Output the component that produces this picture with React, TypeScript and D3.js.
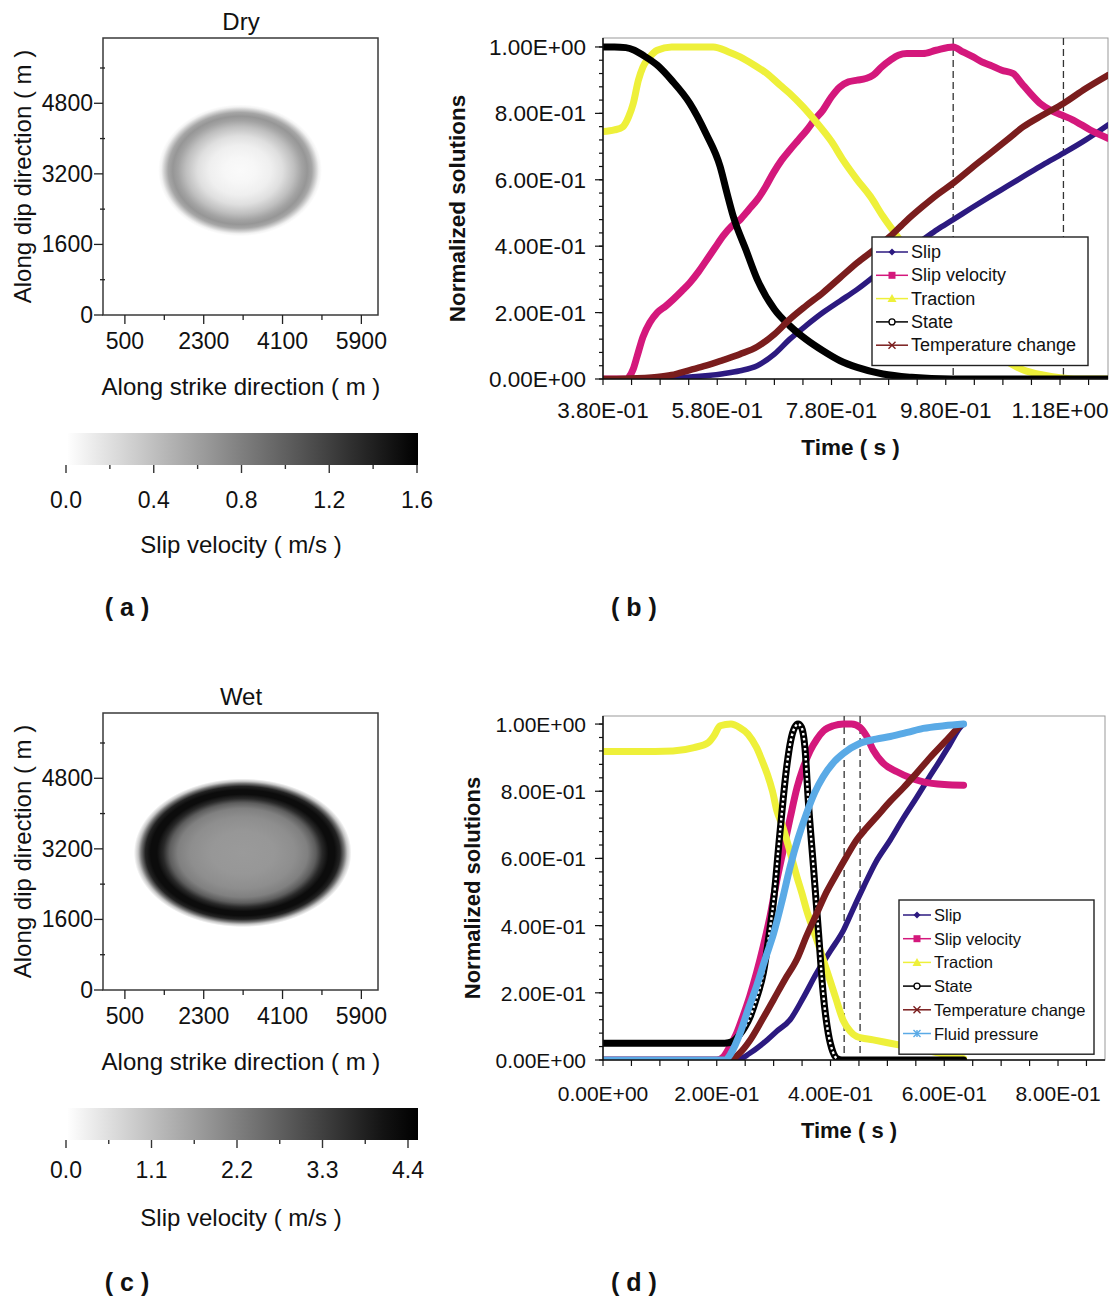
import React from 'react';
import * as d3 from 'd3';

type Pt = [number, number];

const W = 1113;
const H = 1301;
const FONT = "'Liberation Sans', Arial, Helvetica, sans-serif";

// ---- slip velocity maps (a, c) ----
const MAP_EXTENT = 6280; // m, both directions
const dipTicks = [0, 1600, 3200, 4800];
const dipMinor = [800, 2400, 4000, 5600];
const strikeTicks = [500, 2300, 4100, 5900];
const strikeMinor = [1400, 3200, 5000];

// rupture patch: centre strike, centre dip, semi-axis strike, semi-axis dip (m)
const dryPatch = [3130, 3280, 1765, 1410];
const wetPatch = [3190, 3110, 2390, 1620];

// slip velocity along normalised elliptic radius (m/s)
const dryRadius = [0, 0.2, 0.4, 0.55, 0.7, 0.8, 0.87, 0.93, 0.98, 1.02, 1.06];
const dryVel = [0.03, 0.05, 0.1, 0.2, 0.4, 0.58, 0.66, 0.56, 0.3, 0.08, 0];
const wetRadius = [0, 0.3, 0.5, 0.62, 0.7, 0.76, 0.82, 0.88, 0.93, 0.97, 1.0, 1.04];
const wetVel = [1.75, 1.8, 1.95, 2.2, 2.8, 3.7, 4.2, 4.2, 3.8, 2.4, 1.0, 0];

const dryBarTicks = [0, 0.4, 0.8, 1.2, 1.6];
const wetBarTicks = [0, 1.1, 2.2, 3.3, 4.4];

// ---- normalised solutions, dry (b) ----
const bTimeTicks = [0.38, 0.58, 0.78, 0.98, 1.18];
const bDashed = [0.993, 1.186];

const bSlip: Pt[] = [
  [0.38, 0], [0.45, 0.001], [0.532, 0.006], [0.59, 0.016], [0.62, 0.025], [0.65, 0.04],
  [0.68, 0.075], [0.707, 0.12], [0.735, 0.16], [0.765, 0.2], [0.795, 0.235], [0.825, 0.27],
  [0.855, 0.31], [0.883, 0.35], [0.91, 0.385], [0.94, 0.42], [0.965, 0.45], [0.993, 0.48],
  [1.025, 0.515], [1.058, 0.55], [1.087, 0.58], [1.116, 0.61], [1.15, 0.645], [1.186, 0.68],
  [1.225, 0.72], [1.264, 0.765],
];
const bSlipVel: Pt[] = [
  [0.38, 0], [0.42, 0], [0.425, 0.005], [0.433, 0.03], [0.44, 0.07], [0.45, 0.127], [0.462, 0.17],
  [0.475, 0.2], [0.49, 0.22], [0.503, 0.24], [0.518, 0.265], [0.532, 0.29], [0.548, 0.325],
  [0.562, 0.36], [0.576, 0.395], [0.59, 0.43], [0.605, 0.46], [0.62, 0.48], [0.635, 0.51],
  [0.65, 0.54], [0.665, 0.58], [0.678, 0.62], [0.693, 0.66], [0.707, 0.69], [0.722, 0.72],
  [0.737, 0.75], [0.75, 0.78], [0.765, 0.81], [0.78, 0.85], [0.795, 0.88], [0.81, 0.895],
  [0.825, 0.9], [0.84, 0.905], [0.853, 0.915], [0.868, 0.94], [0.883, 0.96], [0.897, 0.975],
  [0.912, 0.98], [0.94, 0.98], [0.963, 0.99], [0.993, 1.0], [1.01, 0.985], [1.028, 0.97],
  [1.043, 0.955], [1.058, 0.945], [1.078, 0.93], [1.098, 0.92], [1.113, 0.89], [1.128, 0.86],
  [1.145, 0.83], [1.163, 0.81], [1.183, 0.795], [1.203, 0.78], [1.233, 0.75], [1.264, 0.725],
];
const bTraction: Pt[] = [
  [0.38, 0.745], [0.4, 0.75], [0.415, 0.76], [0.425, 0.79], [0.433, 0.83], [0.442, 0.9],
  [0.45, 0.94], [0.462, 0.97], [0.475, 0.99], [0.5, 1.0], [0.54, 1.0], [0.573, 1.0],
  [0.6, 0.985], [0.62, 0.97], [0.645, 0.945], [0.667, 0.92], [0.69, 0.885], [0.707, 0.86],
  [0.73, 0.82], [0.755, 0.77], [0.78, 0.715], [0.8, 0.66], [0.825, 0.6], [0.848, 0.55],
  [0.87, 0.49], [0.895, 0.43], [0.92, 0.37], [0.95, 0.3], [0.98, 0.23], [1.01, 0.17],
  [1.04, 0.12], [1.075, 0.066], [1.1, 0.04], [1.116, 0.027], [1.15, 0.012], [1.18, 0.004],
  [1.21, 0], [1.264, 0],
];
const bState: Pt[] = [
  [0.38, 1.0], [0.4, 1.0], [0.42, 0.998], [0.435, 0.99], [0.45, 0.975], [0.475, 0.945],
  [0.5, 0.9], [0.532, 0.83], [0.56, 0.74], [0.585, 0.64], [0.597, 0.56], [0.608, 0.49],
  [0.63, 0.39], [0.65, 0.3], [0.68, 0.21], [0.707, 0.16], [0.735, 0.12], [0.765, 0.085],
  [0.795, 0.055], [0.825, 0.035], [0.87, 0.015], [0.92, 0.005], [0.99, 0], [1.264, 0],
];
const bTemp: Pt[] = [
  [0.38, 0], [0.42, 0.001], [0.475, 0.006], [0.5, 0.012], [0.532, 0.027], [0.56, 0.04],
  [0.59, 0.057], [0.62, 0.075], [0.65, 0.097], [0.68, 0.135], [0.707, 0.18], [0.735, 0.22],
  [0.765, 0.26], [0.795, 0.305], [0.825, 0.35], [0.855, 0.39], [0.883, 0.43], [0.91, 0.475],
  [0.94, 0.52], [0.965, 0.555], [0.993, 0.59], [1.025, 0.635], [1.058, 0.68], [1.087, 0.72],
  [1.116, 0.76], [1.15, 0.795], [1.186, 0.83], [1.225, 0.875], [1.264, 0.915],
];

// ---- normalised solutions, wet (d) ----
const dTimeTicks = [0, 0.2, 0.4, 0.6, 0.8];
const dDashed = [0.424, 0.452];
const dStateOpenSpan = [0.235, 0.412]; // where the open-circle markers of State show up

const dSlip: Pt[] = [
  [0, 0], [0.235, 0], [0.258, 0.02], [0.282, 0.05], [0.305, 0.085], [0.329, 0.12],
  [0.352, 0.185], [0.376, 0.26], [0.4, 0.325], [0.423, 0.387], [0.44, 0.45], [0.458, 0.515],
  [0.48, 0.59], [0.505, 0.655], [0.528, 0.72], [0.552, 0.783], [0.573, 0.84], [0.593, 0.893],
  [0.61, 0.94], [0.628, 0.99], [0.634, 1.0],
];
const dSlipVel: Pt[] = [
  [0, 0], [0.2, 0], [0.212, 0.01], [0.223, 0.04], [0.235, 0.08], [0.246, 0.13], [0.258, 0.19],
  [0.27, 0.26], [0.282, 0.34], [0.294, 0.43], [0.305, 0.53], [0.317, 0.625], [0.329, 0.72],
  [0.341, 0.81], [0.352, 0.87], [0.364, 0.92], [0.376, 0.955], [0.388, 0.98], [0.405, 0.995],
  [0.423, 1.0], [0.437, 1.0], [0.452, 0.99], [0.463, 0.965], [0.475, 0.923], [0.493, 0.883],
  [0.517, 0.858], [0.54, 0.84], [0.563, 0.828], [0.6, 0.82], [0.634, 0.818],
];
const dTraction: Pt[] = [
  [0, 0.918], [0.06, 0.918], [0.123, 0.92], [0.16, 0.93], [0.185, 0.945], [0.195, 0.965],
  [0.206, 0.995], [0.225, 1.0], [0.24, 0.99], [0.255, 0.97], [0.27, 0.93], [0.28, 0.89],
  [0.289, 0.85], [0.298, 0.8], [0.306, 0.74], [0.315, 0.7], [0.323, 0.655], [0.332, 0.6],
  [0.341, 0.545], [0.35, 0.495], [0.358, 0.446], [0.367, 0.4], [0.376, 0.357], [0.387, 0.3],
  [0.399, 0.238], [0.41, 0.18], [0.422, 0.119], [0.435, 0.085], [0.446, 0.07], [0.475, 0.06],
  [0.505, 0.05], [0.535, 0.04], [0.565, 0.03], [0.593, 0.02], [0.615, 0.01], [0.634, 0.004],
];
const dState: Pt[] = [
  [0, 0.05], [0.1, 0.05], [0.214, 0.05], [0.228, 0.055], [0.24, 0.075], [0.25, 0.1],
  [0.259, 0.13], [0.27, 0.185], [0.282, 0.26], [0.291, 0.36], [0.3, 0.476], [0.311, 0.675],
  [0.323, 0.873], [0.33, 0.95], [0.337, 0.99], [0.343, 1.0], [0.349, 0.99], [0.355, 0.93],
  [0.361, 0.77], [0.37, 0.575], [0.379, 0.377], [0.387, 0.2], [0.396, 0.08], [0.404, 0.025],
  [0.411, 0.005], [0.42, 0], [0.634, 0],
];
const dTemp: Pt[] = [
  [0, 0], [0.223, 0], [0.24, 0.02], [0.259, 0.06], [0.28, 0.12], [0.3, 0.18], [0.32, 0.24],
  [0.341, 0.3], [0.358, 0.37], [0.376, 0.437], [0.393, 0.5], [0.411, 0.555], [0.428, 0.605],
  [0.446, 0.655], [0.463, 0.69], [0.481, 0.724], [0.505, 0.77], [0.528, 0.81], [0.552, 0.855],
  [0.575, 0.9], [0.6, 0.945], [0.628, 0.997],
];
const dFluid: Pt[] = [
  [0, 0], [0.214, 0], [0.225, 0.02], [0.241, 0.08], [0.255, 0.15], [0.27, 0.22], [0.285, 0.3],
  [0.3, 0.377], [0.315, 0.475], [0.329, 0.575], [0.343, 0.66], [0.358, 0.735], [0.372, 0.795],
  [0.387, 0.843], [0.405, 0.885], [0.423, 0.913], [0.452, 0.943], [0.48, 0.955], [0.505, 0.963],
  [0.535, 0.975], [0.563, 0.987], [0.6, 0.995], [0.634, 1.0],
];

type MarkerKind = 'diamond' | 'square' | 'triangle' | 'circle' | 'cross' | 'star';
interface SeriesStyle { name: string; color: string; marker: MarkerKind; width: number }

const STYLE: Record<string, SeriesStyle> = {
  slip: { name: 'Slip', color: '#2c1a80', marker: 'diamond', width: 5.5 },
  vel: { name: 'Slip velocity', color: '#d4187c', marker: 'square', width: 7 },
  traction: { name: 'Traction', color: '#eef03a', marker: 'triangle', width: 7 },
  state: { name: 'State', color: '#000000', marker: 'circle', width: 7 },
  temp: { name: 'Temperature change', color: '#7a1d1d', marker: 'cross', width: 6.5 },
  fluid: { name: 'Fluid pressure', color: '#5aaae6', marker: 'star', width: 7 },
};

const greyScale = (vMax: number) =>
  d3.scaleLinear<string>().domain([0, vMax]).range(['#ffffff', '#000000']).clamp(true);

function sciLabel(v: number) {
  const [m, e] = v.toExponential(2).split('e');
  const n = parseInt(e, 10);
  return `${m}E${n < 0 ? '-' : '+'}${String(Math.abs(n)).padStart(2, '0')}`;
}

function Marker({ kind, x, y, color }: { kind: MarkerKind; x: number; y: number; color: string }) {
  const s = 3.5;
  switch (kind) {
    case 'diamond':
      return <path d={`M${x},${y - s}L${x + s},${y}L${x},${y + s}L${x - s},${y}Z`} fill={color} />;
    case 'square':
      return <rect x={x - s} y={y - s} width={2 * s} height={2 * s} fill={color} />;
    case 'triangle':
      return <path d={`M${x},${y - s - 1}L${x + s + 1},${y + s}L${x - s - 1},${y + s}Z`} fill={color} />;
    case 'circle':
      return <circle cx={x} cy={y} r={3} fill="#fff" stroke={color} strokeWidth={1.3} />;
    case 'cross':
      return (
        <path d={`M${x - s},${y - s}L${x + s},${y + s}M${x - s},${y + s}L${x + s},${y - s}`}
          stroke={color} strokeWidth={1.4} />
      );
    default:
      return (
        <path d={`M${x - s},${y - s}L${x + s},${y + s}M${x - s},${y + s}L${x + s},${y - s}M${x},${y - s}L${x},${y + s}`}
          stroke={color} strokeWidth={1.4} />
      );
  }
}

function SlipMap(props: {
  id: string; top: number; title: string; patch: number[];
  radius: number[]; vel: number[]; vMax: number;
}) {
  const { id, top, title, patch, radius, vel, vMax } = props;
  const left = 103, right = 378, bottom = top + 277;
  const x = d3.scaleLinear().domain([0, MAP_EXTENT]).range([left, right]);
  const y = d3.scaleLinear().domain([0, MAP_EXTENT]).range([bottom, top]);
  const shade = greyScale(vMax);
  const rMax = d3.max(radius) as number;
  const [cs, cd, as, ad] = patch;

  return (
    <g>
      <defs>
        <radialGradient id={id}>
          {radius.map((r, i) => (
            <stop key={i} offset={r / rMax} stopColor={shade(vel[i])} />
          ))}
        </radialGradient>
        <clipPath id={`${id}-clip`}>
          <rect x={left} y={top} width={right - left} height={bottom - top} />
        </clipPath>
      </defs>
      <text x={241} y={top - 8} fontSize={24} textAnchor="middle">{title}</text>
      <rect x={left} y={top} width={right - left} height={bottom - top} fill="#fff" />
      <ellipse
        clipPath={`url(#${id}-clip)`}
        cx={x(cs)} cy={y(cd)}
        rx={x(as * rMax) - x(0)} ry={y(0) - y(ad * rMax)}
        fill={`url(#${id})`}
      />
      <rect x={left} y={top} width={right - left} height={bottom - top}
        fill="none" stroke="#3a3a3a" strokeWidth={1.5} />
      {dipTicks.map((v) => (
        <g key={`dy${v}`}>
          <line x1={left - 9} x2={left} y1={y(v)} y2={y(v)} stroke="#222" strokeWidth={1.3} />
          <text x={left - 10} y={y(v) + 8} fontSize={23} textAnchor="end">{v}</text>
        </g>
      ))}
      {dipMinor.map((v) => (
        <line key={`dm${v}`} x1={left - 3} x2={left + 2} y1={y(v)} y2={y(v)} stroke="#222" strokeWidth={1.3} />
      ))}
      {strikeTicks.map((v) => (
        <g key={`sx${v}`}>
          <line x1={x(v)} x2={x(v)} y1={bottom} y2={bottom + 9} stroke="#222" strokeWidth={1.3} />
          <text x={x(v)} y={bottom + 34} fontSize={23} textAnchor="middle">{v}</text>
        </g>
      ))}
      {strikeMinor.map((v) => (
        <line key={`sm${v}`} x1={x(v)} x2={x(v)} y1={bottom} y2={bottom + 5} stroke="#222" strokeWidth={1.3} />
      ))}
      <text x={241} y={bottom + 80} fontSize={24} textAnchor="middle">Along strike direction ( m )</text>
      <text transform={`translate(31,${(top + bottom) / 2}) rotate(-90)`} fontSize={24} textAnchor="middle">
        Along dip direction ( m )
      </text>
    </g>
  );
}

function ColorBar(props: {
  id: string; top: number; ticks: number[]; tickEnd: number;
  labelY: number; titleY: number;
}) {
  const { id, top, ticks, tickEnd, labelY, titleY } = props;
  const vMax = ticks[ticks.length - 1];
  const x = d3.scaleLinear().domain([0, vMax]).range([66, tickEnd]);
  const shade = greyScale(vMax);
  const barL = 68, barR = 418, h = 32;
  const stops = d3.range(0, 11).map((i) => ({
    offset: i / 10,
    color: shade(x.invert(barL + (i * (barR - barL)) / 10)),
  }));
  const minor = ticks.slice(1).map((v, i) => (v + ticks[i]) / 2);
  return (
    <g>
      <defs>
        <linearGradient id={id} x1="0" x2="1" y1="0" y2="0">
          {stops.map((s, i) => <stop key={i} offset={s.offset} stopColor={s.color} />)}
        </linearGradient>
      </defs>
      <rect x={barL} y={top} width={barR - barL} height={h} fill={`url(#${id})`} />
      {ticks.map((v) => (
        <g key={v}>
          <line x1={x(v)} x2={x(v)} y1={top + h} y2={top + h + 8} stroke="#333" strokeWidth={1.4} />
          <text x={x(v)} y={labelY} fontSize={23} textAnchor="middle">{v.toFixed(1)}</text>
        </g>
      ))}
      {minor.map((v) => (
        <line key={v} x1={x(v)} x2={x(v)} y1={top + h} y2={top + h + 4} stroke="#333" strokeWidth={1.4} />
      ))}
      <text x={241} y={titleY} fontSize={24} textAnchor="middle">Slip velocity ( m/s )</text>
    </g>
  );
}

interface PlotSeries { key: string; data: Pt[]; openSpan?: number[] }

function SolutionPlot(props: {
  id: string; left: number; right: number; top: number; bottom: number;
  tDomain: [number, number]; yMax: number; timeTicks: number[]; dashed: number[];
  series: PlotSeries[]; tickFont: number; tickLabelY: number; yTitleX: number; titleSize: number;
  legend: { x: number; y: number; w: number; row: number; font: number; sampleW: number };
}) {
  const { id, left, right, top, bottom, tDomain, yMax, timeTicks, dashed, series, legend } = props;
  const x = d3.scaleLinear().domain(tDomain).range([left, right]);
  const y = d3.scaleLinear().domain([0, yMax]).range([bottom, top]);
  const line = d3.line<Pt>().x((d) => x(d[0])).y((d) => y(d[1])).curve(d3.curveMonotoneX);
  const yMinor = d3.range(0, yMax + 1e-9, 0.04);
  const yMajor = d3.range(0, 1.0001, 0.2);
  const tMinor = d3.range(tDomain[0], tDomain[1] + 1e-9, 0.05);
  const legendH = series.length * legend.row + 12;

  return (
    <g>
      <defs>
        <clipPath id={`${id}-clip`}>
          <rect x={left} y={top} width={right - left} height={bottom - top} />
        </clipPath>
        {series.filter((s) => s.openSpan).map((s) => (
          <clipPath key={s.key} id={`${id}-${s.key}-open`}>
            <rect x={x(s.openSpan![0])} y={top} width={x(s.openSpan![1]) - x(s.openSpan![0])} height={bottom - top} />
          </clipPath>
        ))}
      </defs>
      <rect x={left} y={top} width={right - left} height={bottom - top} fill="#fff" stroke="#999" strokeWidth={1} />
      {dashed.map((t) => (
        <line key={t} x1={x(t)} x2={x(t)} y1={top} y2={bottom} stroke="#333" strokeWidth={1.3} strokeDasharray="7,4" />
      ))}
      <g clipPath={`url(#${id}-clip)`}>
        {series.map((s) => (
          <g key={s.key}>
            <path d={line(s.data) as string} fill="none"
              stroke={STYLE[s.key].color} strokeWidth={STYLE[s.key].width}
              strokeLinejoin="round" strokeLinecap="round" />
            {s.openSpan && (
              <path d={line(s.data) as string} fill="none" stroke="#fff" strokeWidth={2.4}
                strokeDasharray="2.5,2.5" clipPath={`url(#${id}-${s.key}-open)`} />
            )}
          </g>
        ))}
      </g>
      <line x1={left} x2={left} y1={top} y2={bottom} stroke="#111" strokeWidth={1.5} />
      <line x1={left} x2={right} y1={bottom} y2={bottom} stroke="#111" strokeWidth={1.5} />
      {yMinor.map((v, i) => (
        <line key={`ym${i}`} x1={left - 4} x2={left} y1={y(v)} y2={y(v)} stroke="#111" strokeWidth={1.2} />
      ))}
      {yMajor.map((v, i) => (
        <g key={`yM${i}`}>
          <line x1={left - 8} x2={left} y1={y(v)} y2={y(v)} stroke="#111" strokeWidth={1.2} />
          <text x={left - 17} y={y(v) + 8} fontSize={props.tickFont} textAnchor="end">{sciLabel(v)}</text>
        </g>
      ))}
      {tMinor.map((v, i) => (
        <line key={`tm${i}`} x1={x(v)} x2={x(v)} y1={bottom} y2={bottom + 6} stroke="#111" strokeWidth={1.2} />
      ))}
      {timeTicks.map((v) => (
        <text key={`tl${v}`} x={x(v)} y={props.tickLabelY} fontSize={props.tickFont} textAnchor="middle">
          {sciLabel(v)}
        </text>
      ))}
      <text x={(left + right) / 2 - 5} y={props.tickLabelY + 37} fontSize={props.titleSize} fontWeight="bold" textAnchor="middle">
        Time ( s )
      </text>
      <text transform={`translate(${props.yTitleX},${(top + bottom) / 2}) rotate(-90)`}
        fontSize={props.titleSize} fontWeight="bold" textAnchor="middle">
        Normalized solutions
      </text>
      <g>
        <rect x={legend.x} y={legend.y} width={legend.w} height={legendH} fill="#fff" stroke="#222" strokeWidth={1.4} />
        {series.map((s, i) => {
          const st = STYLE[s.key];
          const ry = legend.y + 15 + i * legend.row;
          const x0 = legend.x + 4;
          const x1 = x0 + legend.sampleW;
          return (
            <g key={s.key}>
              <line x1={x0} x2={x1} y1={ry} y2={ry} stroke={st.color} strokeWidth={1.5} />
              <Marker kind={st.marker} x={(x0 + x1) / 2} y={ry} color={st.color} />
              <text x={x1 + 3} y={ry + 6} fontSize={legend.font}>{st.name}</text>
            </g>
          );
        })}
      </g>
    </g>
  );
}

export default function App() {
  return (
    <svg width={W} height={H} viewBox={`0 0 ${W} ${H}`} fontFamily={FONT} fill="#111"
      style={{ position: 'absolute', left: 0, top: 0, background: '#fff' }}>
      <rect width={W} height={H} fill="#fff" />

      <SlipMap id="dry" top={38} title="Dry" patch={dryPatch} radius={dryRadius} vel={dryVel} vMax={1.6} />
      <ColorBar id="dryBar" top={433} ticks={dryBarTicks} tickEnd={417} labelY={508} titleY={553} />
      <text x={127} y={616} fontSize={25} fontWeight="bold" textAnchor="middle">( a )</text>

      <SolutionPlot
        id="b" left={603} right={1108} top={38} bottom={379}
        tDomain={[0.38, 1.264]} yMax={1.027} timeTicks={bTimeTicks} dashed={bDashed}
        series={[
          { key: 'slip', data: bSlip },
          { key: 'vel', data: bSlipVel },
          { key: 'traction', data: bTraction },
          { key: 'state', data: bState },
          { key: 'temp', data: bTemp },
        ]}
        tickFont={22.5} tickLabelY={418} yTitleX={465} titleSize={22.5}
        legend={{ x: 872, y: 237, w: 216, row: 23.3, font: 18, sampleW: 32 }}
      />
      <text x={634} y={616} fontSize={25} fontWeight="bold" textAnchor="middle">( b )</text>

      <SlipMap id="wet" top={713} title="Wet" patch={wetPatch} radius={wetRadius} vel={wetVel} vMax={4.4} />
      <ColorBar id="wetBar" top={1108} ticks={wetBarTicks} tickEnd={408} labelY={1178} titleY={1226} />
      <text x={127} y={1291} fontSize={25} fontWeight="bold" textAnchor="middle">( c )</text>

      <SolutionPlot
        id="d" left={603} right={1105} top={716} bottom={1060}
        tDomain={[0, 0.8826]} yMax={1.024} timeTicks={dTimeTicks} dashed={dDashed}
        series={[
          { key: 'slip', data: dSlip },
          { key: 'vel', data: dSlipVel },
          { key: 'traction', data: dTraction },
          { key: 'state', data: dState, openSpan: dStateOpenSpan },
          { key: 'temp', data: dTemp },
          { key: 'fluid', data: dFluid },
        ]}
        tickFont={21} tickLabelY={1101} yTitleX={480} titleSize={22}
        legend={{ x: 899, y: 900, w: 195, row: 23.7, font: 16.5, sampleW: 28 }}
      />
      <text x={634} y={1291} fontSize={25} fontWeight="bold" textAnchor="middle">( d )</text>
    </svg>
  );
}
